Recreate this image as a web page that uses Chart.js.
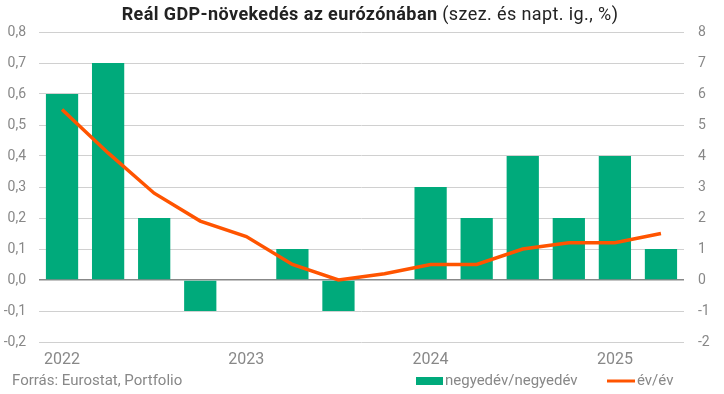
<!DOCTYPE html>
<html>
<head>
<meta charset="utf-8">
<script src="https://cdn.jsdelivr.net/npm/chart.js@4.4.1/dist/chart.umd.min.js"></script>
<style>
  html, body { margin: 0; padding: 0; background: #fff; }
  #wrap { width: 724px; height: 394px; }
</style>
</head>
<body>
<div id="wrap"><canvas id="gdpChart" width="724" height="394"></canvas></div>
<script>
// quarters 2022 Q1 .. 2025 Q2
const quarters = ["2022 Q1", "2022 Q2", "2022 Q3", "2022 Q4", "2023 Q1", "2023 Q2", "2023 Q3",
  "2023 Q4", "2024 Q1", "2024 Q2", "2024 Q3", "2024 Q4", "2025 Q1", "2025 Q2"];
const yearLabels = ["2022", "", "", "", "2023", "", "", "", "2024", "", "", "", "2025", ""];
const qoq = [0.6, 0.7, 0.2, -0.1, 0.0, 0.1, -0.1, 0.0, 0.3, 0.2, 0.4, 0.2, 0.4, 0.1];
const yoy = [5.5, 4.1, 2.8, 1.9, 1.4, 0.5, 0.0, 0.2, 0.5, 0.5, 1.0, 1.2, 1.2, 1.5];
const seriesNames = ["negyedév/negyedév", "év/év"];

const green = "#00aa7b";
const orange = "#ff5400";
const grey = "#888";
const font = "Roboto";

const decorations = {
  id: "decorations",
  afterDraw(chart) {
    const c = chart.ctx;
    const lineSet = chart.data.datasets[0];
    const barSet = chart.data.datasets[1];
    c.save();
    // title: bold part + normal part
    const boldTxt = "Reál GDP-növekedés az eurózónában";
    const normTxt = " (szez. és napt. ig., %)";
    c.textBaseline = "middle";
    c.textAlign = "left";
    c.fillStyle = "#222";
    c.letterSpacing = "0.4px";
    c.font = "bold 18px " + font;
    const w1 = c.measureText(boldTxt).width;
    c.font = "18px " + font;
    const w2 = c.measureText(normTxt).width;
    const x = 370 - (w1 + w2) / 2;
    c.font = "bold 18px " + font;
    c.fillText(boldTxt, x, 15);
    c.font = "18px " + font;
    c.fillText(normTxt, x + w1, 15);
    c.letterSpacing = "0px";

    // source
    c.font = "15px " + font;
    c.fillStyle = grey;
    c.fillText("Forrás: Eurostat, Portfolio", 12, 381);

    // legend
    c.fillStyle = barSet.backgroundColor;
    c.fillRect(416, 377, 27, 8);
    c.fillStyle = grey;
    c.fillText(barSet.label, 445, 381);
    c.strokeStyle = lineSet.borderColor;
    c.lineWidth = 3;
    c.beginPath();
    c.moveTo(607, 381);
    c.lineTo(635, 381);
    c.stroke();
    c.fillText(lineSet.label, 637, 381);
    c.restore();
  }
};

const ctx = document.getElementById("gdpChart").getContext("2d");
const gdpChart = new Chart(ctx, {
  type: "bar",
  data: {
    labels: quarters,
    datasets: [
      {
        type: "line",
        label: seriesNames[1],
        data: yoy,
        yAxisID: "y1",
        borderColor: orange,
        borderWidth: 3.5,
        pointRadius: 0,
        tension: 0,
        fill: false,
        order: 0
      },
      {
        type: "bar",
        label: seriesNames[0],
        data: qoq,
        yAxisID: "y",
        backgroundColor: green,
        barPercentage: 0.7,
        categoryPercentage: 1.0,
        order: 1
      }
    ]
  },
  options: {
    responsive: false,
    animation: false,
    layout: { padding: { top: 32, left: 0, right: 0, bottom: 0 } },
    plugins: {
      legend: { display: false },
      title: { display: false },
      tooltip: { enabled: false }
    },
    scales: {
      x: {
        grid: { display: false, drawTicks: false },
        border: { display: false },
        ticks: {
          autoSkip: false,
          maxRotation: 0,
          padding: 8,
          color: grey,
          font: { family: font, size: 16 },
          callback: (v, i) => yearLabels[i]
        },
        afterFit: (s) => { s.height = 52; }
      },
      y: {
        position: "left",
        min: -0.2,
        max: 0.8,
        border: { display: false },
        grid: {
          drawTicks: false,
          color: (c) => (Math.abs(c.tick.value) < 1e-9 ? "#888" : "#d0d0d0"),
          lineWidth: (c) => (Math.abs(c.tick.value) < 1e-9 ? 1.5 : 1)
        },
        ticks: {
          stepSize: 0.1,
          padding: 13,
          color: grey,
          font: { family: font, size: 14 },
          callback: (v) => v.toFixed(1).replace(".", ",")
        },
        afterFit: (s) => { s.width = 39; }
      },
      y1: {
        position: "right",
        min: -2,
        max: 8,
        border: { display: false },
        grid: { display: false, drawTicks: false },
        ticks: {
          stepSize: 1,
          padding: 14,
          color: grey,
          font: { family: font, size: 14 },
          callback: (v) => String(Math.round(v))
        },
        afterFit: (s) => { s.width = 40; }
      }
    }
  },
  plugins: [decorations]
});
</script>
</body>
</html>
